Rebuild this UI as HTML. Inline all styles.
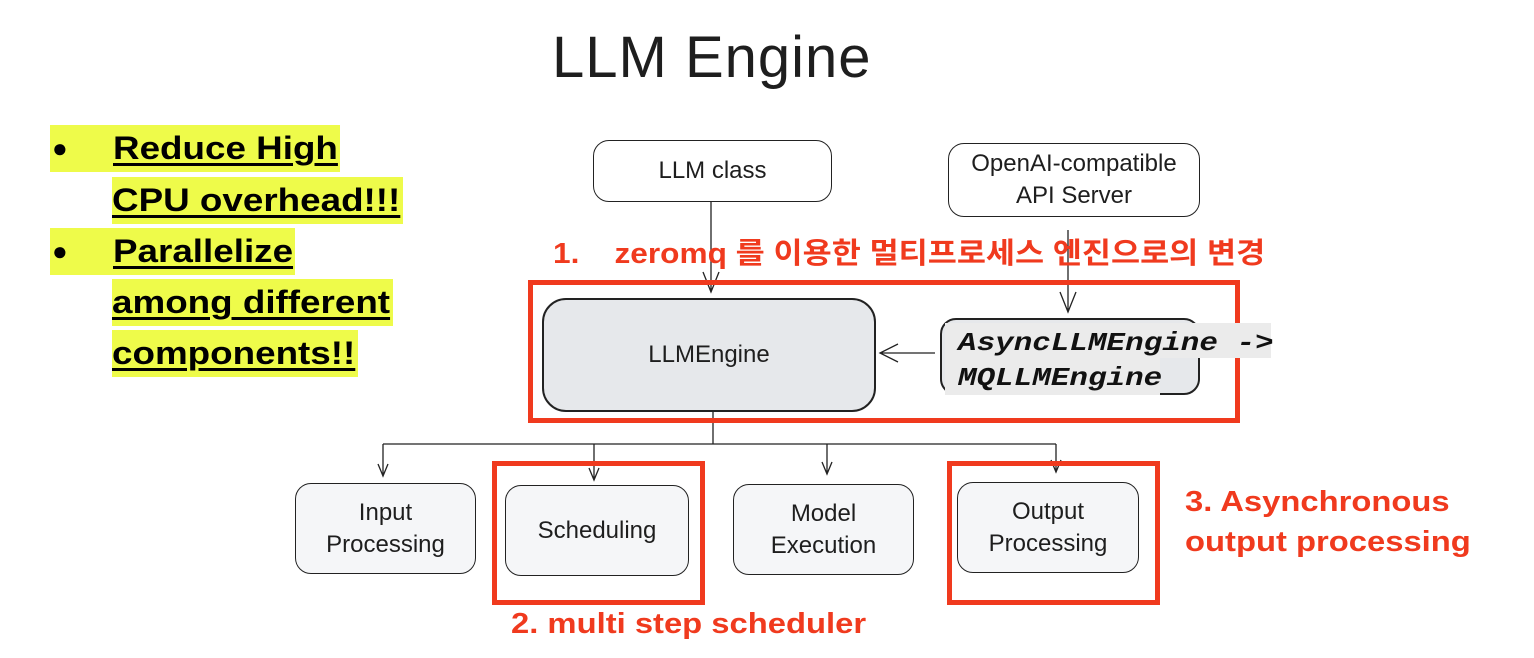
<!DOCTYPE html>
<html><head><meta charset="utf-8"><style>
body{margin:0;width:1534px;height:658px;background:#fff;position:relative;overflow:hidden;font-family:"Liberation Sans","Noto Sans CJK KR",sans-serif}
.a{position:absolute}
.hl{position:absolute;background:#eefb4a;font-weight:bold;font-size:32px;line-height:47px;height:47px;white-space:nowrap}
.hl u{text-decoration-thickness:3px;text-underline-offset:4px;display:inline-block;transform:scaleX(1.15);transform-origin:left}
.box{position:absolute;border:1.6px solid #222;border-radius:16px;box-sizing:border-box;display:flex;align-items:center;justify-content:center;text-align:center;font-size:24px;color:#1e1e1e;line-height:32px}
.red{position:absolute;border:5px solid #f03a1e;box-sizing:border-box}
.rt{position:absolute;color:#f03a1e;font-weight:bold;white-space:nowrap;transform-origin:left top}
</style></head><body>
<div class="a" style="left:552px;top:24px;font-size:58px;color:#1e1e1e;letter-spacing:1px">LLM Engine</div>

<div class="hl" style="left:50px;top:125px;width:290px"><span style="position:absolute;left:2px;font-size:26px">●</span><u style="position:absolute;left:63px">Reduce High</u></div>
<div class="hl" style="left:112px;top:177px;width:291px"><u>CPU overhead!!!</u></div>
<div class="hl" style="left:50px;top:228px;width:245px"><span style="position:absolute;left:2px;font-size:26px">●</span><u style="position:absolute;left:63px">Parallelize</u></div>
<div class="hl" style="left:112px;top:279px;width:281px"><u>among different</u></div>
<div class="hl" style="left:112px;top:330px;width:246px"><u>components!!</u></div>

<svg class="a" style="left:0;top:0" width="1534" height="658">
<g stroke="#222" stroke-width="1.3" fill="none">
<path d="M711 202 L711 292 M703 272 L711 292 L719 272"/>
<path d="M1068 230 L1068 312 M1060 292 L1068 312 L1076 292"/>
<path d="M935 353 L880 353 M898 344 L880 353 L898 362"/>
<path d="M713 412 L713 444 M383 444 L1056 444"/>
<path d="M383 444 L383 476 M378 464 L383 476 L388 464"/>
<path d="M594 444 L594 480 M589 468 L594 480 L599 468"/>
<path d="M827 444 L827 474 M822 462 L827 474 L832 462"/>
<path d="M1056 444 L1056 472 M1051 460 L1056 472 L1061 460"/>
</g></svg>

<div class="box" style="left:593px;top:140px;width:239px;height:62px;background:#fff">LLM class</div>
<div class="box" style="left:948px;top:143px;width:252px;height:74px;background:#fff">OpenAI-compatible<br>API Server</div>
<div class="rt" style="left:553px;top:230px;font-size:29px;transform:scaleX(1.09)">1.&nbsp;&nbsp;&nbsp; zeromq 를 이용한 멀티프로세스 엔진으로의 변경</div>
<div class="red" style="left:528px;top:280px;width:712px;height:143px"></div>
<div class="box" style="left:542px;top:298px;width:334px;height:114px;background:#e6e8eb;border-width:2.5px;border-radius:24px">LLMEngine</div>
<div class="box" style="left:940px;top:318px;width:260px;height:77px;background:#e6e8eb;border-width:2px"></div>
<div class="a" style="left:945px;top:323px;width:326px;height:35px;background:#ebebeb"></div>
<div class="a" style="left:945px;top:358px;width:215px;height:37px;background:#ebebeb"></div>
<div class="a" style="left:958px;top:326px;font-family:'Liberation Mono',monospace;font-weight:bold;font-style:italic;font-size:26px;line-height:35px;color:#111;white-space:nowrap;transform:scaleX(1.19);transform-origin:left top">AsyncLLMEngine -&gt;<br>MQLLMEngine</div>

<div class="box" style="left:295px;top:483px;width:181px;height:91px;background:#f5f6f8">Input<br>Processing</div>
<div class="box" style="left:505px;top:485px;width:184px;height:91px;background:#f5f6f8">Scheduling</div>
<div class="box" style="left:733px;top:484px;width:181px;height:91px;background:#f5f6f8">Model<br>Execution</div>
<div class="box" style="left:957px;top:482px;width:182px;height:91px;background:#f5f6f8">Output<br>Processing</div>
<div class="red" style="left:492px;top:461px;width:213px;height:144px"></div>
<div class="red" style="left:947px;top:461px;width:213px;height:144px"></div>
<div class="rt" style="left:511px;top:608px;font-size:29px;transform:scaleX(1.13)">2. multi step scheduler</div>
<div class="rt" style="left:1185px;top:482px;font-size:29px;line-height:40px;transform:scaleX(1.13)">3. Asynchronous<br>output processing</div>
</body></html>
